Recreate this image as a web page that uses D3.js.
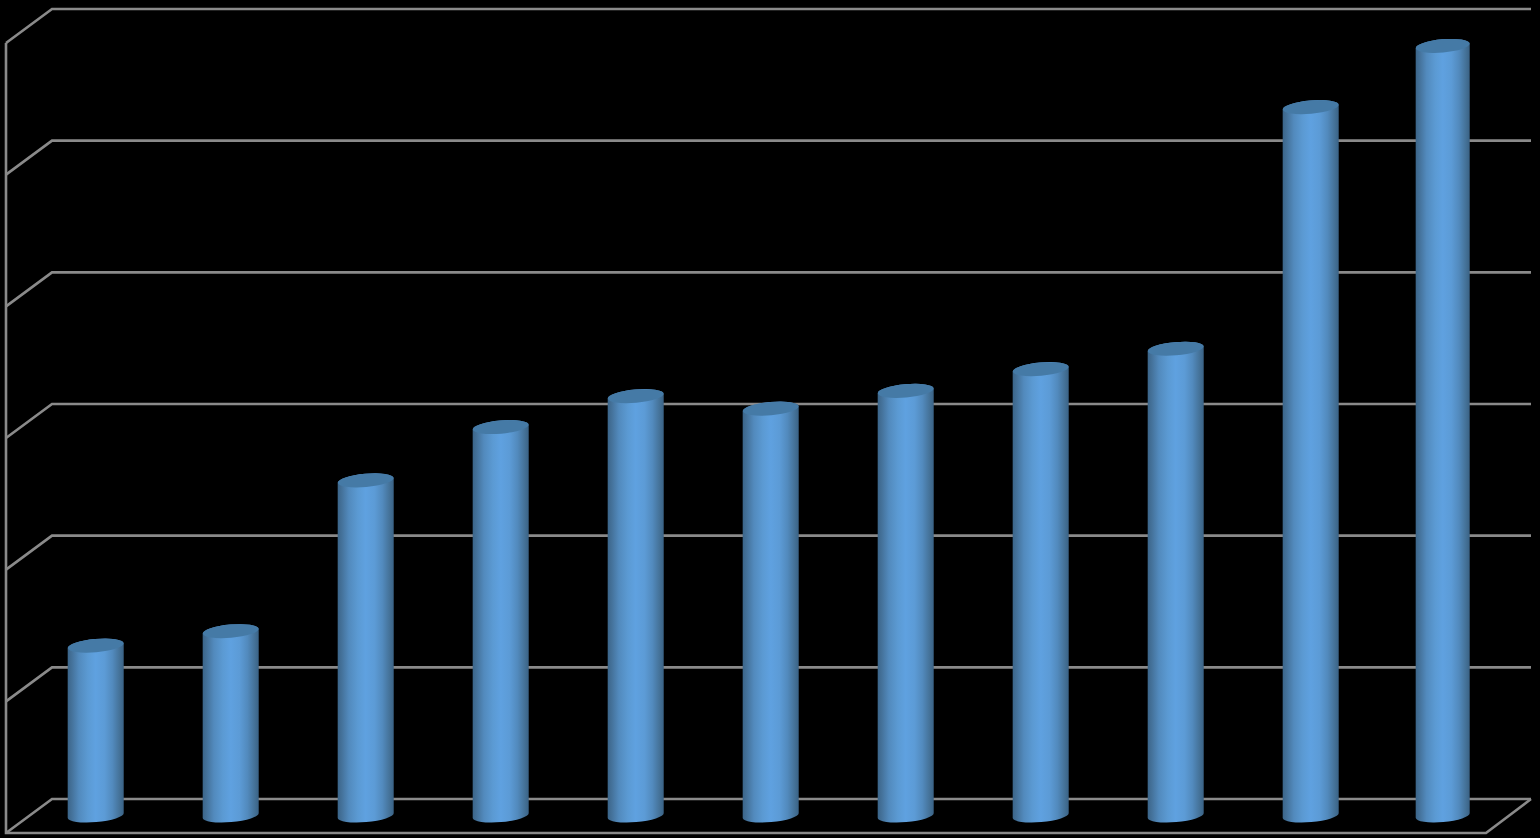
<!DOCTYPE html>
<html><head><meta charset="utf-8">
<script src="https://cdn.jsdelivr.net/npm/d3@7"></script>
<style>html,body{margin:0;padding:0;background:#000;overflow:hidden}svg{display:block}</style>
</head><body>
<svg id="c" width="1540" height="838"></svg>
<script>
const categories = ["1","2","3","4","5","6","7","8","9","10","11"];
const values = [1.29,1.40,2.545,2.95,3.185,3.09,3.225,3.39,3.545,5.38,5.845];
const gridTicks = [0,1,2,3,4,5,6];

const svg = d3.select("#c");
const W = 1540, H = 838;
svg.append("rect").attr("width",W).attr("height",H).attr("fill","#000");

const backY = d3.scaleLinear().domain([0,6]).range([799,9]);
const barFront = 16.5;
const depthX = 46, depthY = 34;
const left = 6, right = 1486;
const gridColor = "#8a8a8a";

const defs = svg.append("defs");
const g = defs.append("linearGradient").attr("id","cyl").attr("x1",0).attr("x2",1).attr("y1",0).attr("y2",0);
[[0,"#3b6589"],[0.07,"#447199"],[0.2,"#528abd"],[0.36,"#5b9ad3"],[0.5,"#5fa1e0"],[0.66,"#5c9bd6"],[0.8,"#528abd"],[0.93,"#447197"],[1,"#3a6285"]]
 .forEach(s=>g.append("stop").attr("offset",s[0]).attr("stop-color",s[1]));

const grid = svg.append("g").attr("fill","none").attr("stroke",gridColor).attr("stroke-width",2.6);
grid.selectAll("path.g").data(gridTicks).join("path").attr("class","g")
  .attr("d",t=>{
    const y = backY(t);
    return d3.line()([[left,y+depthY],[left+depthX,y],[right+depthX-1,y]]);
  });
grid.append("path").attr("d",d3.line()([[left,backY(6)+depthY],[left,backY(0)+depthY],[right,backY(0)+depthY],[right+depthX-1,backY(0)]]));

const x = d3.scaleBand().domain(categories).range([28.2,1513.2]).paddingInner(0.585).paddingOuter(0.2925);
const y = d3.scaleLinear().domain([0,6]).range([backY(0)+barFront,backY(6)+barFront]);
const lastBarShift = -2, lastBarShrink = 2;

const rotation = -5, ry = 6.6;
const bars = svg.append("g").selectAll("g").data(values).join("g");
bars.each(function(v,i){
  const isLast = i === categories.length-1;
  const w = x.bandwidth() - (isLast ? lastBarShrink : 0);
  const rx = w/2, x0 = x(categories[i]) + (isLast ? lastBarShift : 0), x1 = x0 + w;
  const tilt = rx*Math.sin(-rotation*Math.PI/180);
  const top = y(v), base = y(0);
  const sel = d3.select(this);
  sel.append("path").attr("fill","url(#cyl)")
    .attr("d",`M${x0},${top+tilt}L${x0},${base+tilt}A${rx},${ry} ${rotation} 0 0 ${x1},${base-tilt}L${x1},${top-tilt}A${rx},${ry} ${rotation} 0 0 ${x0},${top+tilt}Z`);
  sel.append("ellipse").attr("cx",x0+rx).attr("cy",top).attr("rx",rx).attr("ry",ry)
    .attr("transform",`rotate(${rotation} ${x0+rx} ${top})`).attr("fill","#457aa6");
});
</script>
</body></html>
